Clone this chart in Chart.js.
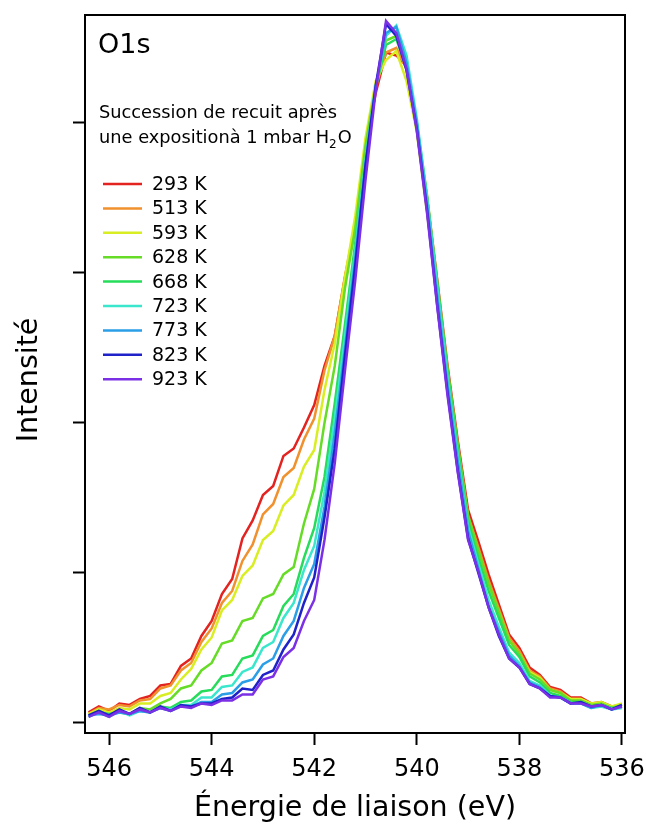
<!DOCTYPE html>
<html>
<head>
<meta charset="utf-8">
<script src="https://cdn.jsdelivr.net/npm/chart.js@4.4.1/dist/chart.umd.min.js"></script>
<style>
  body { margin: 0; background: #fff; }
  #wrap { width: 646px; height: 826px; }
</style>
</head>
<body>
<div id="wrap"><canvas id="o1s-chart" width="646" height="826"></canvas></div>
<script>
// binding energy grid (eV), high -> low
var energies = [546.4, 546.2, 546.0, 545.8, 545.6, 545.4, 545.2, 545.0, 544.8, 544.6,
    544.4, 544.2, 544.0, 543.8, 543.6, 543.4, 543.2, 543.0, 542.8, 542.6,
    542.4, 542.2, 542.0, 541.8, 541.6, 541.4, 541.2, 541.0, 540.8, 540.6,
    540.4, 540.2, 540.0, 539.8, 539.6, 539.4, 539.2, 539.0, 538.8, 538.6,
    538.4, 538.2, 538.0, 537.8, 537.6, 537.4, 537.2, 537.0, 536.8, 536.6,
    536.4, 536.2, 536.0];

var temps = ["293 K", "513 K", "593 K", "628 K", "668 K", "723 K", "773 K", "823 K", "923 K"];
var colors = ["#e3231f", "#f0912d", "#d9ee22", "#66dc26", "#26dc5a", "#3ae6cc", "#2a9ee6", "#1f22c8", "#7b30e6"];

var i293 = [0.07, 0.11, 0.08, 0.13, 0.12, 0.16, 0.18, 0.25, 0.26, 0.38,
    0.43, 0.58, 0.68, 0.86, 0.96, 1.23, 1.35, 1.52, 1.58, 1.78,
    1.83, 1.97, 2.12, 2.38, 2.58, 2.97, 3.30, 3.85, 4.20, 4.47,
    4.45, 4.38, 3.98, 3.50, 2.95, 2.38, 1.88, 1.42, 1.21, 0.99,
    0.79, 0.59, 0.50, 0.37, 0.32, 0.24, 0.22, 0.17, 0.17, 0.13,
    0.14, 0.11, 0.12];
var i513 = [0.06, 0.10, 0.09, 0.12, 0.11, 0.15, 0.16, 0.23, 0.25, 0.35,
    0.40, 0.54, 0.63, 0.80, 0.88, 1.08, 1.19, 1.39, 1.46, 1.64,
    1.70, 1.89, 2.03, 2.35, 2.58, 2.98, 3.33, 3.86, 4.24, 4.47,
    4.50, 4.36, 3.95, 3.47, 2.92, 2.35, 1.85, 1.38, 1.17, 0.95,
    0.76, 0.57, 0.48, 0.35, 0.31, 0.23, 0.21, 0.16, 0.16, 0.12,
    0.13, 0.10, 0.11];
var i593 = [0.06, 0.09, 0.07, 0.10, 0.09, 0.13, 0.13, 0.18, 0.20, 0.29,
    0.36, 0.49, 0.57, 0.75, 0.82, 0.98, 1.05, 1.22, 1.28, 1.45,
    1.52, 1.71, 1.82, 2.22, 2.53, 2.97, 3.38, 3.90, 4.28, 4.42,
    4.48, 4.28, 3.94, 3.40, 2.90, 2.28, 1.82, 1.36, 1.14, 0.92,
    0.74, 0.55, 0.46, 0.34, 0.30, 0.22, 0.20, 0.16, 0.16, 0.13,
    0.14, 0.11, 0.13];
var i628 = [0.05, 0.08, 0.05, 0.08, 0.06, 0.10, 0.09, 0.13, 0.16, 0.23,
    0.25, 0.35, 0.40, 0.53, 0.55, 0.68, 0.70, 0.83, 0.86, 0.99,
    1.04, 1.33, 1.56, 2.00, 2.38, 2.90, 3.30, 3.85, 4.25, 4.55,
    4.58, 4.38, 4.00, 3.52, 2.94, 2.36, 1.85, 1.38, 1.15, 0.93,
    0.74, 0.55, 0.46, 0.33, 0.29, 0.22, 0.20, 0.15, 0.15, 0.12,
    0.13, 0.10, 0.12];
var i668 = [0.05, 0.07, 0.06, 0.07, 0.06, 0.09, 0.07, 0.11, 0.10, 0.14,
    0.15, 0.21, 0.22, 0.31, 0.32, 0.43, 0.45, 0.58, 0.62, 0.78,
    0.86, 1.10, 1.30, 1.64, 2.13, 2.66, 3.20, 3.75, 4.24, 4.52,
    4.56, 4.37, 3.99, 3.50, 2.92, 2.33, 1.82, 1.34, 1.10, 0.88,
    0.70, 0.52, 0.44, 0.31, 0.27, 0.20, 0.18, 0.14, 0.14, 0.11,
    0.12, 0.10, 0.11];
var i723 = [0.04, 0.07, 0.04, 0.08, 0.05, 0.08, 0.07, 0.10, 0.09, 0.12,
    0.12, 0.17, 0.17, 0.24, 0.25, 0.34, 0.37, 0.50, 0.54, 0.70,
    0.80, 1.02, 1.18, 1.54, 2.03, 2.58, 3.15, 3.75, 4.25, 4.58,
    4.65, 4.45, 4.03, 3.50, 2.90, 2.30, 1.78, 1.31, 1.06, 0.82,
    0.64, 0.47, 0.40, 0.28, 0.25, 0.18, 0.17, 0.13, 0.13, 0.10,
    0.11, 0.09, 0.10];
var i773 = [0.05, 0.06, 0.05, 0.07, 0.06, 0.08, 0.07, 0.10, 0.08, 0.11,
    0.11, 0.14, 0.14, 0.19, 0.20, 0.27, 0.29, 0.39, 0.43, 0.58,
    0.68, 0.90, 1.06, 1.44, 1.93, 2.50, 3.10, 3.72, 4.24, 4.60,
    4.64, 4.40, 4.00, 3.46, 2.84, 2.25, 1.74, 1.28, 1.03, 0.78,
    0.61, 0.45, 0.38, 0.27, 0.24, 0.18, 0.17, 0.13, 0.13, 0.10,
    0.12, 0.09, 0.11];
var i823 = [0.05, 0.08, 0.05, 0.09, 0.06, 0.10, 0.07, 0.11, 0.08, 0.12,
    0.11, 0.13, 0.13, 0.16, 0.17, 0.23, 0.22, 0.32, 0.35, 0.49,
    0.59, 0.80, 0.97, 1.37, 1.83, 2.45, 3.05, 3.72, 4.25, 4.66,
    4.58, 4.35, 3.96, 3.42, 2.78, 2.20, 1.68, 1.23, 1.00, 0.77,
    0.58, 0.43, 0.37, 0.26, 0.23, 0.18, 0.17, 0.13, 0.14, 0.11,
    0.12, 0.09, 0.12];
var i923 = [0.04, 0.07, 0.04, 0.08, 0.06, 0.09, 0.07, 0.10, 0.08, 0.11,
    0.10, 0.13, 0.12, 0.15, 0.15, 0.19, 0.19, 0.29, 0.31, 0.44,
    0.50, 0.68, 0.82, 1.22, 1.73, 2.35, 2.95, 3.62, 4.22, 4.68,
    4.60, 4.36, 3.95, 3.40, 2.77, 2.18, 1.67, 1.22, 1.01, 0.77,
    0.59, 0.43, 0.37, 0.26, 0.23, 0.17, 0.17, 0.13, 0.13, 0.11,
    0.12, 0.09, 0.11];

var series = [i293, i513, i593, i628, i668, i723, i773, i823, i923];

var xTicks = [546, 544, 542, 540, 538, 536];
var yTicks = [0, 1, 2, 3, 4];

var FONT = "'DejaVu Sans', sans-serif";

var datasets = series.map(function(vals, i){
    return {
        label: temps[i],
        data: vals.map(function(v, j){ return {x: energies[j], y: v}; }),
        borderColor: colors[i],
        borderWidth: 2.5,
        pointRadius: 0,
        fill: false,
        tension: 0,
        order: series.length - i
    };
});

// frame, titles and the in-plot legend
var decorations = {
    id: "decorations",
    afterDraw: function(chart){
        var ctx = chart.ctx;
        var a = chart.chartArea;
        ctx.save();
        ctx.strokeStyle = "#000";
        ctx.lineWidth = 2;
        ctx.strokeRect(a.left, a.top, a.right - a.left, a.bottom - a.top);

        ctx.fillStyle = "#000";
        ctx.textBaseline = "alphabetic";
        ctx.textAlign = "left";
        ctx.font = "27px " + FONT;
        ctx.fillText("O1s", 98, 53);

        ctx.font = "17.8px " + FONT;
        ctx.fillText("Succession de recuit après", 99, 118);
        var s = "une expositionà 1 mbar H";
        ctx.fillText(s, 99, 143);
        var w = ctx.measureText(s).width;
        ctx.font = "12px " + FONT;
        ctx.fillText("2", 99 + w, 148);
        var w2 = ctx.measureText("2").width;
        ctx.font = "17.8px " + FONT;
        ctx.fillText("O", 99 + w + w2 + 1, 143);

        ctx.font = "19px " + FONT;
        ctx.textBaseline = "middle";
        temps.forEach(function(t, i){
            var y = 184 + i * 24.4;
            ctx.strokeStyle = colors[i];
            ctx.lineWidth = 2.5;
            ctx.beginPath();
            ctx.moveTo(103, y);
            ctx.lineTo(142, y);
            ctx.stroke();
            ctx.fillText(t, 152, y + 1);
        });

        ctx.font = "28.5px " + FONT;
        ctx.textAlign = "center";
        ctx.textBaseline = "alphabetic";
        ctx.fillText("Énergie de liaison (eV)", (a.left + a.right) / 2, 816);

        ctx.translate(37, 380);
        ctx.rotate(-Math.PI / 2);
        ctx.fillText("Intensité", 0, 0);
        ctx.restore();
    }
};

new Chart(document.getElementById("o1s-chart"), {
    type: "line",
    data: { datasets: datasets },
    plugins: [decorations],
    options: {
        responsive: false,
        animation: false,
        devicePixelRatio: 1,
        layout: { padding: { top: 15, right: 21, left: 0, bottom: 0 } },
        plugins: { legend: { display: false }, tooltip: { enabled: false } },
        scales: {
            x: {
                type: "linear",
                reverse: true,
                min: 535.94,
                max: 546.47,
                afterFit: function(s){
                    s.height = 93;
                    s.paddingLeft = 0;
                    s.paddingRight = 0;
                },
                afterBuildTicks: function(s){ s.ticks = xTicks.map(function(v){ return {value: v}; }); },
                grid: { drawOnChartArea: false, drawTicks: true, tickLength: 12, tickColor: "#000", tickWidth: 2 },
                border: { display: true, color: "#000", width: 2 },
                ticks: { color: "#000", font: { family: FONT, size: 24 }, padding: 10, maxRotation: 0,
                    callback: function(v){ return String(v); } }
            },
            y: {
                type: "linear",
                min: -0.067,
                max: 4.72,
                afterFit: function(s){ s.width = 85; },
                afterBuildTicks: function(s){ s.ticks = yTicks.map(function(v){ return {value: v}; }); },
                grid: { drawOnChartArea: false, drawTicks: true, tickLength: 12, tickColor: "#000", tickWidth: 2 },
                border: { display: true, color: "#000", width: 2 },
                ticks: { display: false }
            }
        }
    }
});
</script>
</body>
</html>
